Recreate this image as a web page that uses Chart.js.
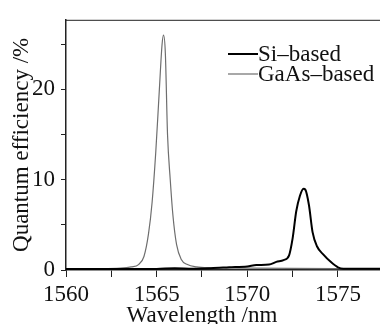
<!DOCTYPE html>
<html lang="en">
<head>
  <meta charset="UTF-8">
  <title>Quantum efficiency vs wavelength</title>
  <style>
    html, body { margin: 0; padding: 0; background: #fff; }
    #wrap { width: 380px; height: 324px; position: relative; }
  </style>
</head>
<body>
  <div id="wrap"><canvas id="chart"></canvas></div>
  <script src="https://cdn.jsdelivr.net/npm/chart.js"></script>
  <script>
    // values
    const siWavelength = [1560, 1563, 1565, 1566, 1567, 1568, 1569, 1570, 1570.5, 1571.2, 1571.6, 1572, 1572.3, 1572.5, 1572.7, 1572.9, 1573.1, 1573.2, 1573.4, 1573.6, 1573.85, 1574.2, 1574.6, 1575.0, 1575.3, 1577.4];
    const siEfficiency = [0.1, 0.1, 0.12, 0.2, 0.15, 0.2, 0.3, 0.4, 0.55, 0.6, 0.9, 1.1, 1.6, 3.5, 6.5, 8.2, 9.0, 8.9, 7.2, 4.2, 2.6, 1.7, 0.9, 0.3, 0.15, 0.15];
    const gaasWavelength = [1560, 1562, 1563, 1563.6, 1564.0, 1564.3, 1564.55, 1564.75, 1564.95, 1565.15, 1565.3, 1565.38, 1565.48, 1565.6, 1565.75, 1565.9, 1566.1, 1566.35, 1566.7, 1567.2, 1568, 1570, 1577.4];
    const gaasEfficiency = [0.15, 0.15, 0.2, 0.35, 0.6, 1.5, 4.0, 7.5, 13, 20, 25, 26, 24, 15, 10, 6, 2.8, 1.2, 0.6, 0.35, 0.25, 0.2, 0.15];
    const xTicks = [1560, 1562.5, 1565, 1567.5, 1570, 1572.5, 1575];
    const yTicks = [0, 5, 10, 15, 20, 25];
    const seriesNames = ['Si\u2013based', 'GaAs\u2013based'];
    const xTitle = 'Wavelength /nm';
    const yTitle = 'Quantum efficiency /%';

    const serif = "'Liberation Serif', 'DejaVu Serif', serif";

    const toPoints = (xs, ys) => xs.map((x, i) => ({ x: x, y: ys[i] }));

    // legend, x title and top frame line drawn by hand, like the paper figure
    const frame = {
      id: 'frame',
      afterDraw(chart) {
        const ctx = chart.ctx;
        const a = chart.chartArea;
        ctx.save();
        ctx.strokeStyle = '#222';
        ctx.lineWidth = 1;
        ctx.beginPath();
        ctx.moveTo(a.left, a.top + 0.5);
        ctx.lineTo(a.right, a.top + 0.5);
        ctx.stroke();

        ctx.font = '23px ' + serif;
        ctx.fillStyle = '#111';
        ctx.textAlign = 'center';
        ctx.textBaseline = 'alphabetic';
        ctx.fillText(xTitle, 202, 322);

        ctx.textAlign = 'left';
        ctx.textBaseline = 'middle';
        chart.data.datasets.forEach((ds, i) => {
          const y = 54 + i * 20;
          ctx.strokeStyle = ds.borderColor;
          ctx.lineWidth = ds.borderWidth;
          ctx.beginPath();
          ctx.moveTo(228, y);
          ctx.lineTo(258, y);
          ctx.stroke();
          ctx.fillText(ds.label, 258, y + 1);
        });
        ctx.restore();
      }
    };

    new Chart(document.getElementById('chart'), {
      type: 'line',
      data: {
        datasets: [
          { label: seriesNames[0], data: toPoints(siWavelength, siEfficiency), borderColor: '#000', borderWidth: 2, pointRadius: 0, tension: 0.3, cubicInterpolationMode: 'monotone' },
          { label: seriesNames[1], data: toPoints(gaasWavelength, gaasEfficiency), borderColor: '#6e6e6e', borderWidth: 1.2, pointRadius: 0, tension: 0.3, cubicInterpolationMode: 'monotone' }
        ]
      },
      options: {
        responsive: true,
        maintainAspectRatio: false,
        animation: false,
        layout: { padding: { top: 10, right: 0, left: 0, bottom: 0 } },
        plugins: { legend: { display: false }, tooltip: { enabled: false } },
        scales: {
          x: {
            type: 'linear',
            min: 1560,
            max: 1577.32,
            afterBuildTicks: s => { s.ticks = xTicks.map(v => ({ value: v })); },
            afterFit: s => { s.height = 54; },
            grid: { drawOnChartArea: false, drawTicks: true, tickLength: 7, color: '#222' },
            border: { color: '#222', width: 1.5 },
            ticks: {
              color: '#111',
              padding: 4,
              maxRotation: 0,
              autoSkip: false,
              font: { family: serif, size: 23 },
              callback: v => (v % 5 === 0 ? String(v) : '')
            },
            title: { display: false }
          },
          y: {
            min: 0,
            max: 27.7,
            afterBuildTicks: s => { s.ticks = yTicks.map(v => ({ value: v })); },
            afterFit: s => { s.width = 66; },
            grid: { drawOnChartArea: false, drawTicks: true, tickLength: 5, color: '#222' },
            border: { color: '#222', width: 1.5 },
            ticks: {
              color: '#111',
              padding: 6,
              font: { family: serif, size: 23 },
              callback: v => (v % 10 === 0 ? String(v) : '')
            },
            title: { display: true, text: yTitle, color: '#111', font: { family: serif, size: 23 }, padding: { top: 8, bottom: 0 } }
          }
        }
      },
      plugins: [frame]
    });
  </script>
</body>
</html>
